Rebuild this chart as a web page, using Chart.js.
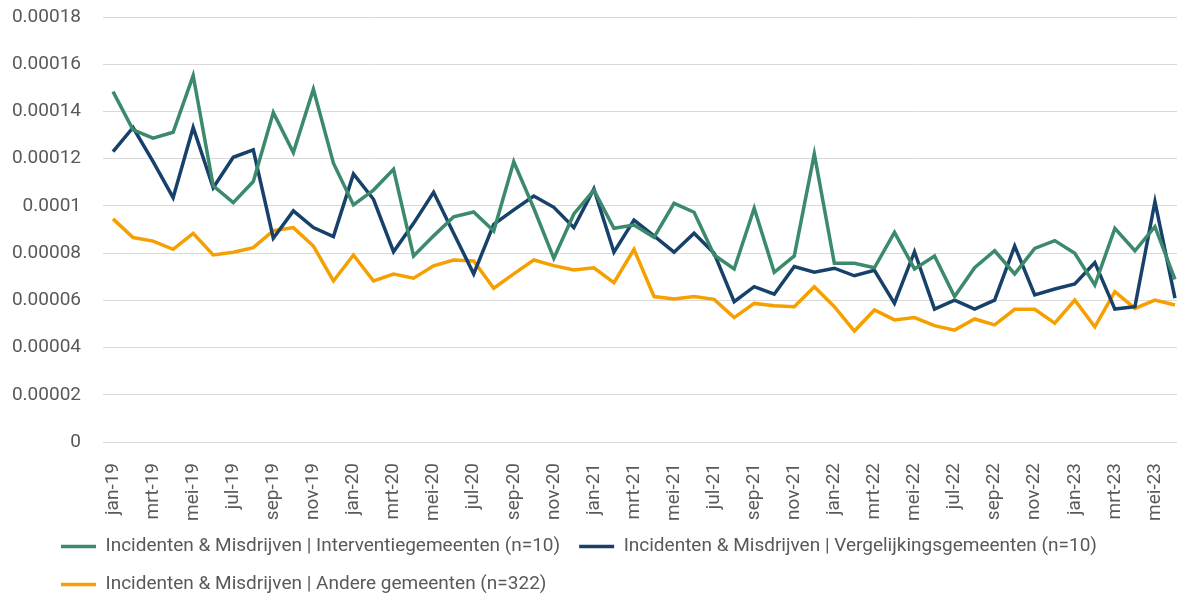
<!DOCTYPE html>
<html lang="nl">
<head>
    <meta charset="UTF-8">
    <title>Incidenten & Misdrijven per maand</title>
    <script src="https://cdn.jsdelivr.net/npm/chart.js"></script>
    <style>
        html, body {
            margin: 0;
            padding: 0;
            background: #fff;
            overflow: hidden;
        }

        #chart-container {
            width: 1185px;
            height: 595px;
        }
    </style>
</head>
<body>
    <div id="chart-container">
        <canvas id="incidentChart"></canvas>
    </div>

    <script>
        const months = [
            'jan-19', 'feb-19', 'mrt-19', 'apr-19', 'mei-19', 'jun-19', 'jul-19', 'aug-19', 'sep-19', 'okt-19', 'nov-19', 'dec-19',
            'jan-20', 'feb-20', 'mrt-20', 'apr-20', 'mei-20', 'jun-20', 'jul-20', 'aug-20', 'sep-20', 'okt-20', 'nov-20', 'dec-20',
            'jan-21', 'feb-21', 'mrt-21', 'apr-21', 'mei-21', 'jun-21', 'jul-21', 'aug-21', 'sep-21', 'okt-21', 'nov-21', 'dec-21',
            'jan-22', 'feb-22', 'mrt-22', 'apr-22', 'mei-22', 'jun-22', 'jul-22', 'aug-22', 'sep-22', 'okt-22', 'nov-22', 'dec-22',
            'jan-23', 'feb-23', 'mrt-23', 'apr-23', 'mei-23', 'jun-23'
        ];

        const interventie = [
            0.0001484, 0.0001322, 0.0001287, 0.0001312, 0.0001552, 0.0001085, 0.0001014, 0.0001103, 0.0001395, 0.0001226, 0.0001494, 0.0001181,
            0.0001004, 0.0001067, 0.0001155, 0.0000788, 0.0000873, 0.0000954, 0.0000974, 0.0000894, 0.0001187, 0.0000990, 0.0000778, 0.0000966,
            0.0001067, 0.0000905, 0.0000919, 0.0000867, 0.0001011, 0.0000973, 0.0000792, 0.0000733, 0.0000990, 0.0000719, 0.0000788, 0.0001220,
            0.0000757, 0.0000757, 0.0000738, 0.0000888, 0.0000733, 0.0000788, 0.0000616, 0.0000738, 0.0000810, 0.0000712, 0.0000820, 0.0000853,
            0.0000799, 0.0000665, 0.0000905, 0.0000810, 0.0000912, 0.0000689
        ];

        const vergelijking = [
            0.0001230, 0.0001332, 0.0001187, 0.0001035, 0.0001332, 0.0001077, 0.0001206, 0.0001237, 0.0000863, 0.0000979, 0.0000908, 0.0000870,
            0.0001135, 0.0001028, 0.0000806, 0.0000926, 0.0001058, 0.0000884, 0.0000712, 0.0000922, 0.0000983, 0.0001042, 0.0000994, 0.0000908,
            0.0001072, 0.0000804, 0.0000940, 0.0000873, 0.0000804, 0.0000884, 0.0000799, 0.0000594, 0.0000658, 0.0000626, 0.0000743, 0.0000719,
            0.0000736, 0.0000704, 0.0000727, 0.0000587, 0.0000806, 0.0000563, 0.0000601, 0.0000563, 0.0000601, 0.0000830, 0.0000623, 0.0000648,
            0.0000669, 0.0000760, 0.0000563, 0.0000573, 0.0001018, 0.0000609
        ];

        const andere = [
            0.0000945, 0.0000866, 0.0000851, 0.0000816, 0.0000884, 0.0000792, 0.0000804, 0.0000823, 0.0000895, 0.0000908, 0.0000830, 0.0000682,
            0.0000792, 0.0000682, 0.0000711, 0.0000694, 0.0000746, 0.0000771, 0.0000767, 0.0000651, 0.0000712, 0.0000771, 0.0000747, 0.0000729,
            0.0000738, 0.0000675, 0.0000816, 0.0000616, 0.0000606, 0.0000616, 0.0000604, 0.0000527, 0.0000587, 0.0000577, 0.0000573, 0.0000658,
            0.0000573, 0.0000470, 0.0000559, 0.0000517, 0.0000527, 0.0000493, 0.0000474, 0.0000521, 0.0000496, 0.0000562, 0.0000562, 0.0000503,
            0.0000601, 0.0000488, 0.0000637, 0.0000566, 0.0000601, 0.0000580
        ];

        const yTickLabels = ['0', '0.00002', '0.00004', '0.00006', '0.00008', '0.0001', '0.00012', '0.00014', '0.00016', '0.00018'];

        const seriesNames = [
            'Incidenten & Misdrijven | Interventiegemeenten (n=10)',
            'Incidenten & Misdrijven | Vergelijkingsgemeenten (n=10)',
            'Incidenten & Misdrijven | Andere gemeenten (n=322)'
        ];

        const textColor = '#595959';
        const gridColor = '#d9d9d9';
        const tickFont = { family: 'Roboto', size: 19 };

        // fixed legend height, rows start a bit in from the left edge
        const legendOffset = {
            id: 'legendOffset',
            beforeInit(chart) {
                const fit = chart.legend.fit;
                chart.legend.fit = function () {
                    fit.call(this);
                    this.height = 73;
                };
            },
            afterLayout(chart) {
                chart.legend.left = 42;
                chart.legend.top = 518;
            }
        };

        function lineSet(label, data, color) {
            return {
                label: label,
                data: data,
                borderColor: color,
                backgroundColor: color,
                borderWidth: 3.5,
                pointRadius: 0,
                pointHoverRadius: 0,
                tension: 0,
                pointStyle: 'line'
            };
        }

        const ctx = document.getElementById('incidentChart').getContext('2d');
        new Chart(ctx, {
            type: 'line',
            data: {
                labels: months,
                datasets: [
                    lineSet(seriesNames[0], interventie, '#3a8a6b'),
                    lineSet(seriesNames[1], vergelijking, '#17406a'),
                    lineSet(seriesNames[2], andere, '#f5a000')
                ]
            },
            plugins: [legendOffset],
            options: {
                responsive: true,
                maintainAspectRatio: false,
                animation: false,
                layout: {
                    padding: { left: 8, top: 17, right: 0, bottom: 0 }
                },
                scales: {
                    x: {
                        offset: true,
                        grid: { display: false },
                        border: { display: false },
                        afterFit: (scale) => {
                            scale.paddingLeft = 0;
                            scale.paddingRight = 0;
                            scale.height = 80;
                        },
                        ticks: {
                            autoSkip: false,
                            maxRotation: 90,
                            minRotation: 90,
                            padding: 13,
                            color: textColor,
                            font: tickFont,
                            callback: (value, index) => index % 2 === 0 ? months[index] : ''
                        }
                    },
                    y: {
                        min: 0,
                        max: 0.00018,
                        grid: { color: gridColor, lineWidth: 1, drawTicks: false },
                        border: { display: false },
                        afterFit: (scale) => {
                            scale.paddingTop = 0;
                            scale.paddingBottom = 0;
                            scale.width = 95;
                        },
                        ticks: {
                            stepSize: 0.00002,
                            padding: 22,
                            color: textColor,
                            font: tickFont,
                            callback: (value, index) => yTickLabels[index]
                        }
                    }
                },
                plugins: {
                    tooltip: { enabled: false },
                    legend: {
                        position: 'bottom',
                        align: 'start',
                        labels: {
                            usePointStyle: true,
                            pointStyleWidth: 35,
                            boxHeight: 3,
                            padding: 19,
                            color: textColor,
                            font: tickFont
                        }
                    }
                }
            }
        });
    </script>
</body>
</html>
